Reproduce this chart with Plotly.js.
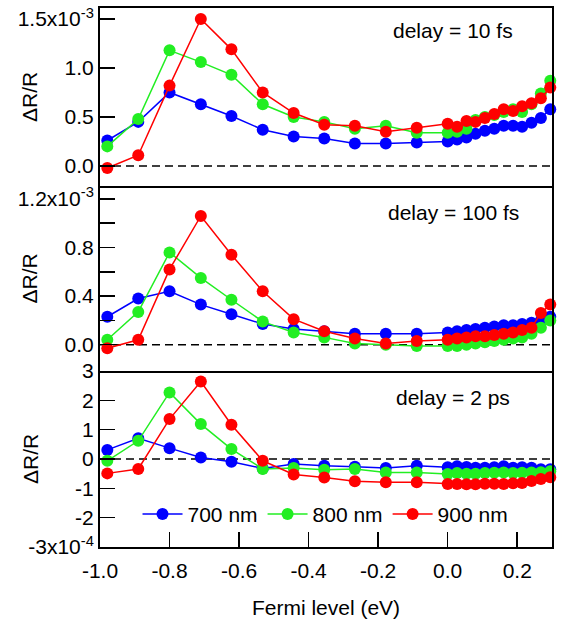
<!DOCTYPE html>
<html>
<head>
<meta charset="utf-8">
<script src="https://cdn.plot.ly/plotly-3.0.1.min.js"></script>
<style>html,body{margin:0;padding:0;background:#fff;}#chart{width:563px;height:625px;}</style>
</head>
<body>
<div id="chart"></div>
<script>
// Fermi level (eV)
const fermi = [-0.979,-0.890,-0.800,-0.710,-0.622,-0.532,-0.443,-0.355,-0.267,-0.178,-0.089,
  0.000,0.027,0.054,0.080,0.107,0.134,0.161,0.188,0.214,0.241,0.268,0.295];

// delay = 10 fs  (units of 1e-3)
const blue10  = [0.26,0.45,0.75,0.63,0.51,0.37,0.30,0.28,0.23,0.23,0.24,0.25,0.27,0.29,0.33,0.36,0.38,0.41,0.41,0.40,0.44,0.49,0.58];
const green10 = [0.20,0.48,1.18,1.06,0.93,0.63,0.50,0.45,0.38,0.41,0.34,0.34,0.35,0.38,0.47,0.50,0.52,0.55,0.58,0.55,0.63,0.74,0.87];
const red10   = [-0.02,0.11,0.82,1.50,1.19,0.75,0.54,0.42,0.41,0.35,0.39,0.43,0.40,0.46,0.45,0.49,0.53,0.58,0.56,0.61,0.64,0.69,0.80];

// delay = 100 fs (units of 1e-3)
const blue100  = [0.23,0.38,0.44,0.33,0.25,0.17,0.13,0.11,0.09,0.09,0.09,0.10,0.11,0.12,0.13,0.14,0.15,0.16,0.16,0.17,0.18,0.20,0.23];
const green100 = [0.04,0.27,0.76,0.55,0.37,0.19,0.10,0.06,0.01,0.00,-0.01,-0.01,-0.01,0.00,0.01,0.02,0.03,0.04,0.05,0.06,0.09,0.14,0.20];
const red100   = [-0.03,0.04,0.62,1.06,0.74,0.44,0.21,0.11,0.05,0.01,0.03,0.04,0.05,0.06,0.07,0.07,0.08,0.09,0.10,0.12,0.14,0.26,0.33];

// delay = 2 ps (units of 1e-4)
const blue2  = [0.31,0.71,0.37,0.05,-0.09,-0.32,-0.17,-0.23,-0.26,-0.31,-0.23,-0.28,-0.25,-0.27,-0.30,-0.30,-0.28,-0.25,-0.30,-0.28,-0.30,-0.35,-0.35];
const green2 = [-0.06,0.62,2.27,1.19,0.34,-0.34,-0.31,-0.37,-0.34,-0.46,-0.46,-0.51,-0.48,-0.50,-0.50,-0.48,-0.47,-0.46,-0.48,-0.47,-0.46,-0.45,-0.42];
const red2   = [-0.49,-0.34,1.36,2.64,1.17,-0.06,-0.53,-0.63,-0.76,-0.79,-0.79,-0.85,-0.85,-0.86,-0.86,-0.84,-0.84,-0.85,-0.83,-0.82,-0.75,-0.68,-0.62];

const seriesNames = ['700 nm','800 nm','900 nm'];
const panelLabels = ['delay = 10 fs','delay = 100 fs','delay = 2 ps'];
const xTickVals = [-1.0,-0.8,-0.6,-0.4,-0.2,0.0,0.2];
const xTickText = ['-1.0','-0.8','-0.6','-0.4','-0.2','0.0','0.2'];
const y1TickVals = [0,0.5,1.0,1.5];
const y1TickText = ['0.0','0.5','1.0','1.5x10<sup>-3</sup>'];
const y2TickVals = [0,0.2,0.4,0.6,0.8,1.0,1.2];
const y2TickText = ['0.0','','0.4','','0.8','','1.2x10<sup>-3</sup>'];
const y3TickVals = [-3,-2,-1,0,1,2,3];
const y3TickText = ['-3x10<sup>-4</sup>','-2','-1','0','1','2','3'];

const colors = ['#0000ff','#22ee22','#ff0000'];
const FONT = 'Liberation Sans, Arial, sans-serif';
const FS = 21;

const panels = [
  {ys:[blue10,green10,red10], xa:'x', ya:'y'},
  {ys:[blue100,green100,red100], xa:'x2', ya:'y2'},
  {ys:[blue2,green2,red2], xa:'x3', ya:'y3'}
];

const traces = [];
panels.forEach((p,pi)=>{
  p.ys.forEach((yv,si)=>{
    traces.push({
      x: fermi, y: yv, xaxis: p.xa, yaxis: p.ya,
      type:'scatter', mode:'lines+markers', name: seriesNames[si],
      showlegend: pi===2, cliponaxis:false,
      line:{color:colors[si], width:1.5},
      marker:{color:colors[si], size:12}
    });
  });
});

function xax(show, anchor, mirror){
  return {domain:[0,1], range:[-1.0,0.3], anchor:anchor, showgrid:false, zeroline:false,
    showline:true, mirror:mirror, linecolor:'#000', linewidth:2,
    ticks: show?'inside':'', ticklen:15, tickwidth:1.5, tickcolor:'#000',
    tickvals:xTickVals, ticktext:xTickText, showticklabels:show, ticklabelstandoff:4,
    tickfont:{family:FONT, size:FS, color:'#000'},
    title: show?{text:'Fermi level (eV)', font:{family:FONT,size:FS,color:'#000'}, standoff:19}:{text:''}};
}
function yax(dom, rng, tv, tt, anchor){
  return {domain:dom, range:rng, anchor:anchor, showgrid:false, zeroline:false,
    showline:true, mirror:true, linecolor:'#000', linewidth:2,
    ticks:'inside', ticklen:15, tickwidth:1.5, tickcolor:'#000',
    tickvals:tv, ticktext:tt, tickfont:{family:FONT,size:FS,color:'#000'}};
}

const dTop=[0.6698,1], dMid=[0.3265,0.6698], dBot=[0,0.3265];
const layout = {
  width:563, height:625, margin:{l:100, r:11, t:8, b:78},
  paper_bgcolor:'#fff', plot_bgcolor:'#fff',
  font:{family:FONT, color:'#000'},
  xaxis: xax(false,'y',true), xaxis2: xax(false,'y2',false), xaxis3: xax(true,'y3',false),
  yaxis: yax(dTop,[-0.204,1.612],y1TickVals,y1TickText,'x'),
  yaxis2: yax(dMid,[-0.217,1.307],y2TickVals,y2TickText,'x2'),
  yaxis3: yax(dBot,[-3,3],y3TickVals,y3TickText,'x3'),
  showlegend:true,
  legend:{orientation:'h', x:0.083, y:0.0607, xanchor:'left', yanchor:'middle',
    bgcolor:'rgba(0,0,0,0)', font:{family:FONT,size:FS,color:'#000'}, itemwidth:40, tracegroupgap:0},
  shapes:[['x','y'],['x2','y2'],['x3','y3']].map(([xr,yr])=>({type:'line', xref:xr, yref:yr,
    x0:-1.0, x1:0.3, y0:0, y1:0, layer:'below', line:{color:'#000', width:1.5, dash:'8px,5px'}})),
  annotations: [
    ...[['y domain',0],['y2 domain',1],['y3 domain',2]].map(([yr,i])=>({xref:'paper', yref:yr,
      x:0.781, y:[0.876,0.859,0.852][i], xanchor:'center', yanchor:'middle', showarrow:false,
      text:panelLabels[i], font:{family:FONT,size:FS,color:'#000'}})),
    ...['y domain','y2 domain','y3 domain'].map(yr=>({xref:'paper', yref:yr, x:-0.155, y:0.5,
      xanchor:'center', yanchor:'middle', textangle:-90, showarrow:false, text:'ΔR/R',
      font:{family:FONT,size:FS,color:'#000'}}))
  ]
};

Plotly.newPlot('chart', traces, layout, {displayModeBar:false, staticPlot:true});
</script>
</body>
</html>
